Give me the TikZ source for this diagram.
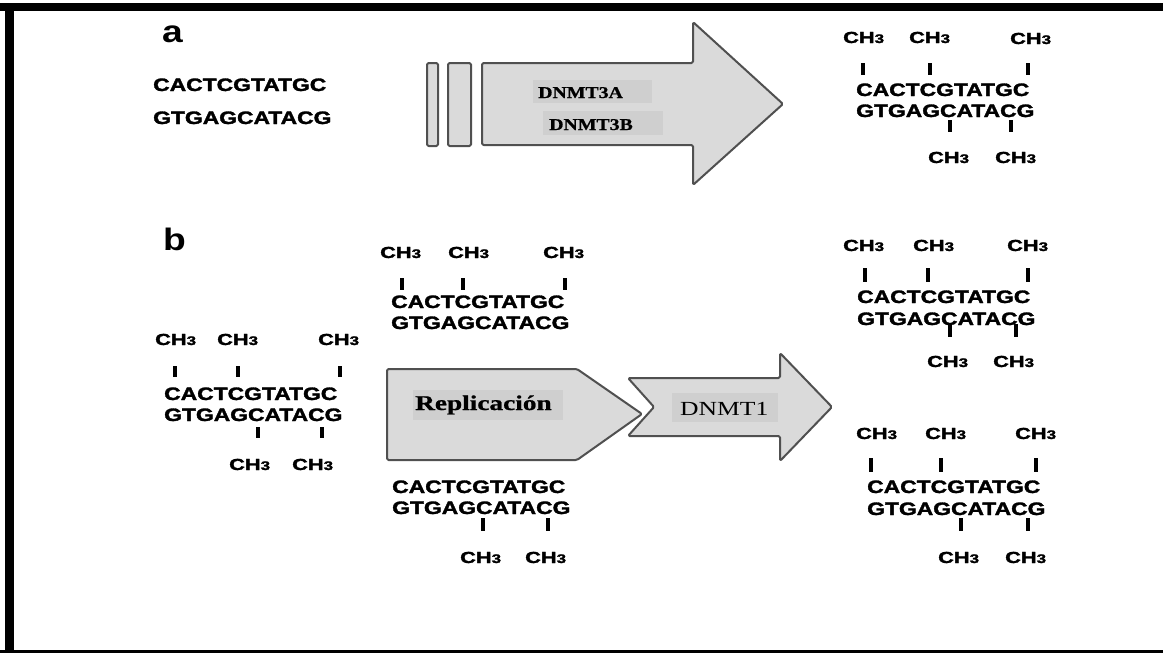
\documentclass[tikz,border=0pt]{standalone}
\usepackage{fontspec}
\setmainfont{Liberation Serif}
\setsansfont{Liberation Sans}
\newfontfamily\dnafont[BoldFeatures={FakeBold=1.6}]{Liberation Sans}
\newfontfamily\lblserif[BoldFeatures={FakeBold=0.8}]{Liberation Serif}
\usepackage{graphicx}
\definecolor{arrowfill}{RGB}{218,218,218}
\definecolor{labelfill}{RGB}{207,207,207}
\definecolor{arrowline}{RGB}{80,80,80}
\newcommand{\seqtxt}[1]{\scalebox{1.27}[1]{\fontsize{18}{18}\selectfont\dnafont\bfseries #1}}
\newcommand{\methyl}{\scalebox{1.36}[1]{\fontsize{16}{16}\selectfont\dnafont\bfseries CH{\fontsize{12.5}{12.5}\selectfont 3}}}
\newcommand{\panellbl}[1]{\scalebox{1.2}[1]{\fontsize{31}{31}\selectfont\sffamily\bfseries #1}}
\begin{document}
\begin{tikzpicture}[x=1pt,y=-1pt,
  seqnode/.style={anchor=base west,inner sep=0pt},
  chnode/.style={anchor=base west,inner sep=0pt},
  bond/.style={line width=3.4pt,black},
  shapebox/.style={fill=arrowfill,draw=arrowline,line width=2pt,rounded corners=1.5pt,line join=round},
  lblbox/.style={fill=labelfill},
  lbltext/.style={anchor=base west,inner sep=0pt}]
\useasboundingbox (0,0) rectangle (1163,653);
% frame
\fill[black] (0,3) rectangle (1163,11);
\fill[black] (5,3) rectangle (14,653);
\fill[black] (0,650) rectangle (1163,653);

% ---------- panel a ----------
\node[lbltext] (la) at (162,42) {\panellbl{a}};
\node[seqnode] (a1) at (153,91) {\seqtxt{CACTCGTATGC}};
\node[seqnode] (a2) at (153,124) {\seqtxt{GTGAGCATACG}};

\draw[shapebox] (427,63) rectangle (438,146);
\draw[shapebox] (448,63) rectangle (471,146);
\draw[shapebox] (482,63) -- (693,63) -- (693,22) -- (783,104) -- (693,185) -- (693,145) -- (482,145) -- cycle;
\fill[lblbox] (533,80) rectangle (652,103);
\fill[lblbox] (543,111) rectangle (663,135);
\node[lbltext] (d3a) at (538,98) {\scalebox{1.2}[1]{\fontsize{16.5}{16.5}\selectfont\lblserif\bfseries DNMT3A}};
\node[lbltext] (d3b) at (549,130) {\scalebox{1.2}[1]{\fontsize{16.5}{16.5}\selectfont\lblserif\bfseries DNMT3B}};

% right block a
\node[chnode] (ar1) at (843,43) {\methyl};
\node[chnode] (ar2) at (909,43) {\methyl};
\node[chnode] (ar3) at (1010,44) {\methyl};
\draw[bond] (863,63) -- (863,75);
\draw[bond] (930,63) -- (930,75);
\draw[bond] (1028,63) -- (1028,75);
\node[seqnode] (ar4) at (856,96) {\seqtxt{CACTCGTATGC}};
\node[seqnode] (ar5) at (856,117) {\seqtxt{GTGAGCATACG}};
\draw[bond] (950,120) -- (950,132);
\draw[bond] (1011,120) -- (1011,132);
\node[chnode] (ar6) at (928,163) {\methyl};
\node[chnode] (ar7) at (995,163) {\methyl};

% ---------- panel b ----------
\node[lbltext] (lb) at (163,250) {\panellbl{b}};

% left block
\node[chnode] (bl1) at (155,345) {\methyl};
\node[chnode] (bl2) at (217,345) {\methyl};
\node[chnode] (bl3) at (318,345) {\methyl};
\draw[bond] (175,366) -- (175,377);
\draw[bond] (238,366) -- (238,377);
\draw[bond] (340,366) -- (340,377);
\node[seqnode] (bl4) at (164,400) {\seqtxt{CACTCGTATGC}};
\node[seqnode] (bl5) at (164,421) {\seqtxt{GTGAGCATACG}};
\draw[bond] (258,427) -- (258,438);
\draw[bond] (322,427) -- (322,438);
\node[chnode] (bl6) at (229,470) {\methyl};
\node[chnode] (bl7) at (292,470) {\methyl};

% middle top block
\node[chnode] (bm1) at (380,258) {\methyl};
\node[chnode] (bm2) at (448,258) {\methyl};
\node[chnode] (bm3) at (543,258) {\methyl};
\draw[bond] (402,278) -- (402,290);
\draw[bond] (463,278) -- (463,290);
\draw[bond] (565,278) -- (565,290);
\node[seqnode] (bm4) at (391,308) {\seqtxt{CACTCGTATGC}};
\node[seqnode] (bm5) at (391,329) {\seqtxt{GTGAGCATACG}};

% middle bottom block
\node[seqnode] (bn1) at (392,493) {\seqtxt{CACTCGTATGC}};
\node[seqnode] (bn2) at (392,514) {\seqtxt{GTGAGCATACG}};
\draw[bond] (483,518) -- (483,531);
\draw[bond] (548,518) -- (548,531);
\node[chnode] (bn3) at (460,563) {\methyl};
\node[chnode] (bn4) at (525,563) {\methyl};

% arrows b
\draw[shapebox] (387,369) -- (577,369) -- (642,414) -- (577,460) -- (387,460) -- cycle;
\fill[lblbox] (413,390) rectangle (563,420);
\node[lbltext] (rep) at (415,410) {\scalebox{1.3}[1]{\fontsize{21}{21}\selectfont\lblserif\bfseries Replicación}};
\draw[shapebox] (628,378) -- (780,378) -- (780,353) -- (832,407) -- (780,461) -- (780,436) -- (628,436) -- (654,407) -- cycle;
\fill[lblbox] (672,393) rectangle (778,422);
\node[lbltext] (dn1) at (680,415) {\scalebox{1.28}[1]{\fontsize{20}{20}\selectfont DNMT1}};

% right top block
\node[chnode] (br1) at (843,251) {\methyl};
\node[chnode] (br2) at (913,251) {\methyl};
\node[chnode] (br3) at (1007,251) {\methyl};
\draw[bond] (865,268) -- (865,282);
\draw[bond] (928,268) -- (928,282);
\draw[bond] (1028,268) -- (1028,282);
\node[seqnode] (br4) at (857,303) {\seqtxt{CACTCGTATGC}};
\node[seqnode] (br5) at (857,325) {\seqtxt{GTGAGCATACG}};
\draw[bond] (950,324) -- (950,337);
\draw[bond] (1016,324) -- (1016,337);
\node[chnode] (br6) at (927,367) {\methyl};
\node[chnode] (br7) at (993,367) {\methyl};

% right bottom block
\node[chnode] (bs1) at (856,439) {\methyl};
\node[chnode] (bs2) at (925,439) {\methyl};
\node[chnode] (bs3) at (1015,439) {\methyl};
\draw[bond] (871,458) -- (871,472);
\draw[bond] (941,458) -- (941,472);
\draw[bond] (1036,458) -- (1036,472);
\node[seqnode] (bs4) at (867,493) {\seqtxt{CACTCGTATGC}};
\node[seqnode] (bs5) at (867,515) {\seqtxt{GTGAGCATACG}};
\draw[bond] (961,518) -- (961,531);
\draw[bond] (1028,518) -- (1028,531);
\node[chnode] (bs6) at (938,563) {\methyl};
\node[chnode] (bs7) at (1005,563) {\methyl};
\end{tikzpicture}
\end{document}
